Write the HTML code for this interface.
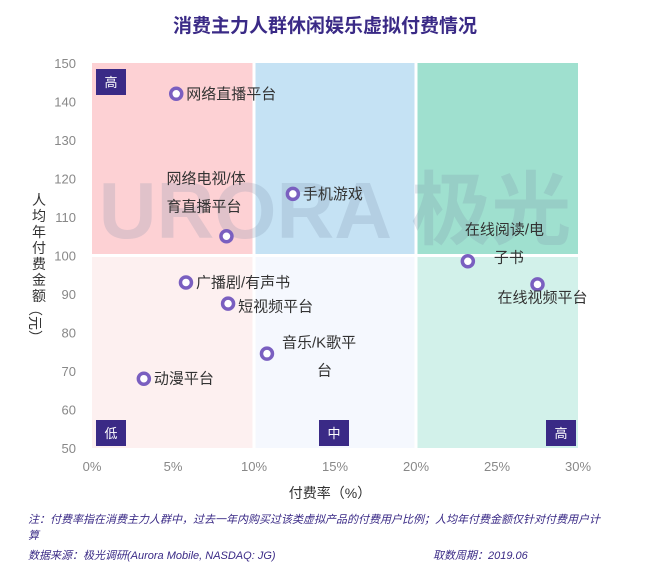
<!DOCTYPE html>
<html><head><meta charset="utf-8"><style>
body{margin:0;background:#fff;width:650px;height:566px;overflow:hidden;font-family:"Liberation Sans","Noto Sans CJK SC",sans-serif}
</style></head><body>
<svg id="c" width="650" height="566" xmlns="http://www.w3.org/2000/svg">
<text x="325" y="32" text-anchor="middle" font-size="19" font-weight="bold" fill="#3a2a86" font-family="Liberation Sans, Noto Sans CJK SC, sans-serif">消费主力人群休闲娱乐虚拟付费情况</text>
<g id="plot"></g>
<text x="330" y="498" text-anchor="middle" font-size="14" fill="#333" font-family="Liberation Sans, Noto Sans CJK SC, sans-serif">付费率（%）</text>
<text transform="translate(32,255)" font-size="14" fill="#333" font-family="Liberation Sans, Noto Sans CJK SC, sans-serif"><tspan x="0" dy="-50">人</tspan><tspan x="0" dy="16">均</tspan><tspan x="0" dy="16">年</tspan><tspan x="0" dy="16">付</tspan><tspan x="0" dy="16">费</tspan><tspan x="0" dy="16">金</tspan><tspan x="0" dy="16">额</tspan></text>
<text transform="translate(30,302) rotate(90)" font-size="14" fill="#333" font-family="Liberation Sans, Noto Sans CJK SC, sans-serif">（元）</text>
<text x="28" y="523" font-size="11" font-style="italic" fill="#3a2a86" font-family="Liberation Sans, Noto Sans CJK SC, sans-serif">注：付费率指在消费主力人群中，过去一年内购买过该类虚拟产品的付费用户比例；人均年付费金额仅针对付费用户计</text>
<text x="28" y="539" font-size="11" font-style="italic" fill="#3a2a86" font-family="Liberation Sans, Noto Sans CJK SC, sans-serif">算</text>
<text x="28" y="559" font-size="11" font-style="italic" fill="#3a2a86" font-family="Liberation Sans, Noto Sans CJK SC, sans-serif">数据来源：极光调研(Aurora Mobile, NASDAQ: JG)</text>
<text x="433" y="559" font-size="11" font-style="italic" fill="#3a2a86" font-family="Liberation Sans, Noto Sans CJK SC, sans-serif">取数周期：2019.06</text>
</svg>
<script>
const names=["网络直播平台","网络电视/体|育直播平台","手机游戏","在线阅读/电|子书","在线视频平台","广播剧/有声书","短视频平台","音乐/K歌平|台","动漫平台"];
const rates=[5.2,8.3,12.4,23.2,27.5,5.8,8.4,10.8,3.2];
const amounts=[142,105,116,98.5,92.5,93,87.5,74.5,68];
const xTicks=[0,5,10,15,20,25,30];
const yTicks=[50,60,70,80,90,100,110,120,130,140,150];
const X0=92,X1=578,Y0=448,Y1=63;
const sx=v=>X0+(v-0)/30*(X1-X0);
const sy=v=>Y0-(v-50)/100*(Y0-Y1);
const NS="http://www.w3.org/2000/svg";
const g=document.getElementById('plot');
function mk(t,a,p){const e=document.createElementNS(NS,t);for(const k in a)e.setAttribute(k,a[k]);(p||g).appendChild(e);return e;}
const F="Liberation Sans, Noto Sans CJK SC, sans-serif";
const quads=[[0,10,100,150,"#fdd1d4"],[10,20,100,150,"#c5e2f4"],[20,30,100,150,"#9fe0cf"],[0,10,50,100,"#fdf0f0"],[10,20,50,100,"#f5f8fe"],[20,30,50,100,"#d2f1ea"]];
quads.forEach((q,i)=>{
const r=mk('rect',{x:sx(q[0]),y:sy(q[3]),width:sx(q[1])-sx(q[0]),height:sy(q[2])-sy(q[3]),fill:q[4]});


});
mk('line',{x1:sx(10),x2:sx(10),y1:Y1,y2:Y0,stroke:"#fff","stroke-width":3});
mk('line',{x1:sx(20),x2:sx(20),y1:Y1,y2:Y0,stroke:"#fff","stroke-width":3});
mk('line',{x1:X0,x2:X1,y1:sy(100),y2:sy(100),stroke:"#fff","stroke-width":3});
const wm=mk('text',{x:335,y:238,"font-size":80,"font-weight":"bold",fill:"#7a8da8","fill-opacity":0.22,"font-family":F,"text-anchor":"middle"});
wm.textContent="URORA 极光";


const badges=[[X0+4,Y1+6,"高"],[X0+4,Y0-28,"低"],[sx(15)-16,Y0-28,"中"],[X1-32,Y0-28,"高"]];
badges.forEach((b,i)=>{
const r=mk('rect',{x:b[0],y:b[1],width:30,height:26,fill:"#3a2a86"});


const t=mk('text',{x:b[0]+15,y:b[1]+18,"text-anchor":"middle","font-size":13,fill:"#fff","font-family":F});
t.textContent=b[2];
});
xTicks.forEach(v=>{const t=mk('text',{x:sx(v),y:Y0+23,"text-anchor":"middle","font-size":13,fill:"#888","font-family":F});t.textContent=v+"%";

});
yTicks.forEach(v=>{const t=mk('text',{x:X0-16,y:sy(v)+5,"text-anchor":"end","font-size":13,fill:"#888","font-family":F});t.textContent=v;

});
// label offsets per point: [dx,dy,anchor, line2 dx]
const lab=[[10,5,"start",0],[-60,-53,"start",0],[10,5,"start",0],[-3,-27,"start",29],[-40,18,"start",0],[10,5,"start",0],[10,8,"start",0],[15,-6,"start",35],[10,5,"start",0]];
names.forEach((n,i)=>{
const cx=sx(rates[i]),cy=sy(amounts[i]);
const c=mk('circle',{cx:cx,cy:cy,r:5.5,fill:"#fff",stroke:"#7a5fc0","stroke-width":3.5});


const parts=n.split('|');
parts.forEach((p,j)=>{
const t=mk('text',{x:cx+lab[i][0]+(j?lab[i][3]:0),y:cy+lab[i][1]+j*28,"text-anchor":lab[i][2],"font-size":15,fill:"#333","font-family":F});
t.textContent=p;


});
});
</script>
</body></html>
